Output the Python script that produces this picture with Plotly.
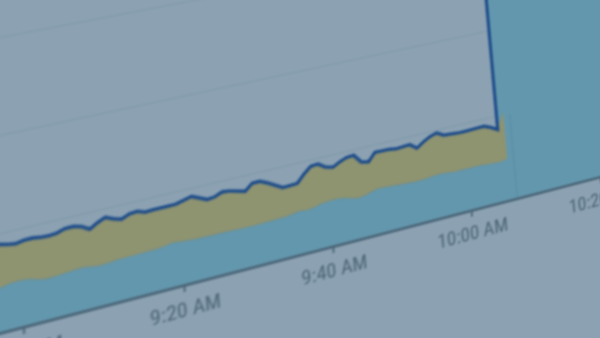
import numpy as np
import pandas as pd
import plotly.graph_objects as go

# ---------------- data ----------------
DAY = "2024-01-08"
# one sample per minute, 8:57 AM .. 10:06 AM
times = pd.date_range(f"{DAY} 08:57", periods=70, freq="min")

# top of the stacked area (dark line sits on it)
total_vals = [
    44.8, 44.5, 43.5, 42.8, 43.6, 43.7, 43.0, 42.8, 43.2, 44.5,
    44.6, 43.5, 41.1, 43.5, 45.3, 43.5, 42.3, 44.1, 44.5, 43.0,
    43.3, 43.5, 43.3, 43.4, 44.5, 45.5, 43.6, 41.8, 42.3, 44.0,
    43.5, 42.5, 41.3, 44.8, 44.9, 43.0, 40.5, 38.4, 38.6, 38.8,
    43.0, 46.3, 46.7, 44.0, 42.9, 45.0, 46.5, 46.8, 42.0, 41.2,
    45.6, 45.6, 45.4, 44.7, 44.9, 45.2, 42.3, 45.0, 47.0, 48.2,
    46.0, 45.5, 45.4, 45.2, 45.2, 45.2, 45.6, 44.0, 41.8, 50.5,
]
# top of the lower (blue) area
blue_vals = [
    22.3, 22.6, 23.5, 23.7, 23.4, 22.2, 21.2, 21.2, 21.4, 21.8,
    22.2, 22.2, 21.5, 21.0, 21.4, 21.8, 22.1, 22.2, 22.1, 22.2,
    22.3, 22.8, 23.5, 23.0, 22.7, 22.5, 22.3, 22.3, 22.3, 22.3,
    22.3, 22.0, 21.8, 21.9, 22.0, 22.0, 22.2, 22.3, 22.8, 23.6,
    23.0, 23.6, 24.6, 25.0, 25.2, 24.8, 23.5, 22.6, 23.0, 24.2,
    25.2, 25.0, 24.6, 24.3, 24.1, 23.9, 23.8, 24.1, 24.5, 24.8,
    24.5, 24.0, 23.8, 23.9, 23.9, 23.9, 23.5, 23.1, 23.0, 23.9,
]
assert len(total_vals) == len(blue_vals) == len(times)

SPIKE_VALUE = 2000            # off-scale jump at the end
SPIKE_END = f"{DAY} 10:40"
MARK_TIME = f"{DAY} 10:07"    # faint vertical marker
MARK_TOP = 49

X_RANGE = [f"{DAY} 08:45", f"{DAY} 10:35"]
Y_RANGE = [0, 300]
GRID_STEP = 50
TICK0 = f"{DAY} 09:00"
TICK_STEP_MS = 20 * 60 * 1000

# ---------------- style ----------------
BG = "#8ca2b2"
GRID = "#7d96a8"
TEAL = "#6397ad"
TEAL_EDGE = "#5a8ca2"
OLIVE = "#8e9370"
LINE = "#1d4c8a"
AXIS = "#4b6678"
LABEL = "#4d6576"

W, H = 905, 790
ML, MR, MT, MB = 40, 40, 20, 200
PW, PH = W - ML - MR, H - MT - MB

fig = go.Figure()

blue_x = list(times[:-1]) + [times[-1], pd.Timestamp(SPIKE_END)]
blue_y = blue_vals[:-1] + [SPIKE_VALUE, SPIKE_VALUE]
fig.add_trace(go.Scatter(x=blue_x, y=blue_y, mode="lines", fill="tozeroy",
                         fillcolor=TEAL, line=dict(color=TEAL_EDGE, width=1.5),
                         hoverinfo="skip"))

olive_x = list(times) + list(times[::-1])
olive_y = total_vals + blue_vals[::-1]
fig.add_trace(go.Scatter(x=olive_x, y=olive_y, mode="lines", fill="toself",
                         fillcolor=OLIVE, line=dict(color=OLIVE, width=0.5),
                         hoverinfo="skip"))

fig.add_trace(go.Scatter(x=[pd.Timestamp(MARK_TIME)] * 2, y=[0, MARK_TOP],
                         mode="lines", line=dict(color=TEAL_EDGE, width=1.2),
                         hoverinfo="skip"))

line_x = list(times)
line_y = total_vals[:-1] + [SPIKE_VALUE]
fig.add_trace(go.Scatter(x=line_x, y=line_y, mode="lines",
                         line=dict(color=LINE, width=3.5, shape="linear"),
                         hoverinfo="skip"))

fig.update_layout(
    width=W, height=H, margin=dict(l=ML, r=MR, t=MT, b=MB),
    paper_bgcolor=BG, plot_bgcolor=BG, showlegend=False,
    xaxis=dict(type="date", range=X_RANGE, showgrid=False, zeroline=False,
               showline=True, linecolor=AXIS, linewidth=3,
               ticks="outside", ticklen=5, tickwidth=2, tickcolor=AXIS,
               tick0=TICK0, dtick=TICK_STEP_MS, tickformat="%-I:%M %p",
               ticklabelstandoff=0,
               tickfont=dict(family="Liberation Sans Narrow, Roboto Condensed, Roboto, sans-serif",
                             size=21, color=LABEL)),
    yaxis=dict(range=Y_RANGE, dtick=GRID_STEP, showgrid=True, gridcolor=GRID,
               gridwidth=1.3, zeroline=False, showline=False, showticklabels=False,
               ticks=""),
)

# ---------------- camera (photo perspective) ----------------
t0 = pd.Timestamp(X_RANGE[0])
span = (pd.Timestamp(X_RANGE[1]) - t0).total_seconds()


def fx(t):
    return ML + (pd.Timestamp(t) - t0).total_seconds() / span * PW


def fy(v):
    return MT + (Y_RANGE[1] - v) / (Y_RANGE[1] - Y_RANGE[0]) * PH


src = [(fx(f"{DAY} 09:00"), fy(0)), (fx(f"{DAY} 10:00"), fy(0)),
       (fx(f"{DAY} 09:00"), fy(150)), (fx(f"{DAY} 10:00"), fy(100))]
dst = [(23, 326), (471, 209.5), (-3.0, 37.6), (455.5, 37.5)]

A, b = [], []
for (X, Y), (x, y) in zip(src, dst):
    A.append([X, Y, 1, 0, 0, 0, -x * X, -x * Y]); b.append(x)
    A.append([0, 0, 0, X, Y, 1, -y * X, -y * Y]); b.append(y)
h = np.linalg.solve(np.array(A, float), np.array(b, float))
Hm = np.append(h, 1.0).reshape(3, 3)
m3d = [Hm[0, 0], Hm[1, 0], 0, Hm[2, 0],
       Hm[0, 1], Hm[1, 1], 0, Hm[2, 1],
       0, 0, 1, 0,
       Hm[0, 2], Hm[1, 2], 0, Hm[2, 2]]
m3d_str = ",".join(f"{v:.10g}" for v in m3d)

post = f"""
var gd = document.getElementById('{{plot_id}}');
var de = document.documentElement;
de.style.margin='0'; de.style.overflow='hidden'; de.style.background='{BG}';
document.body.style.margin='0'; document.body.style.overflow='hidden';
document.body.style.background='{BG}';
gd.style.position='fixed'; gd.style.left='0px'; gd.style.top='0px';
gd.style.transformOrigin='0 0';
gd.style.transform='matrix3d({m3d_str})';
gd.style.filter='blur(0.8px)';
"""

fig.write_html("out.html", post_script=post, config={"displayModeBar": False})
